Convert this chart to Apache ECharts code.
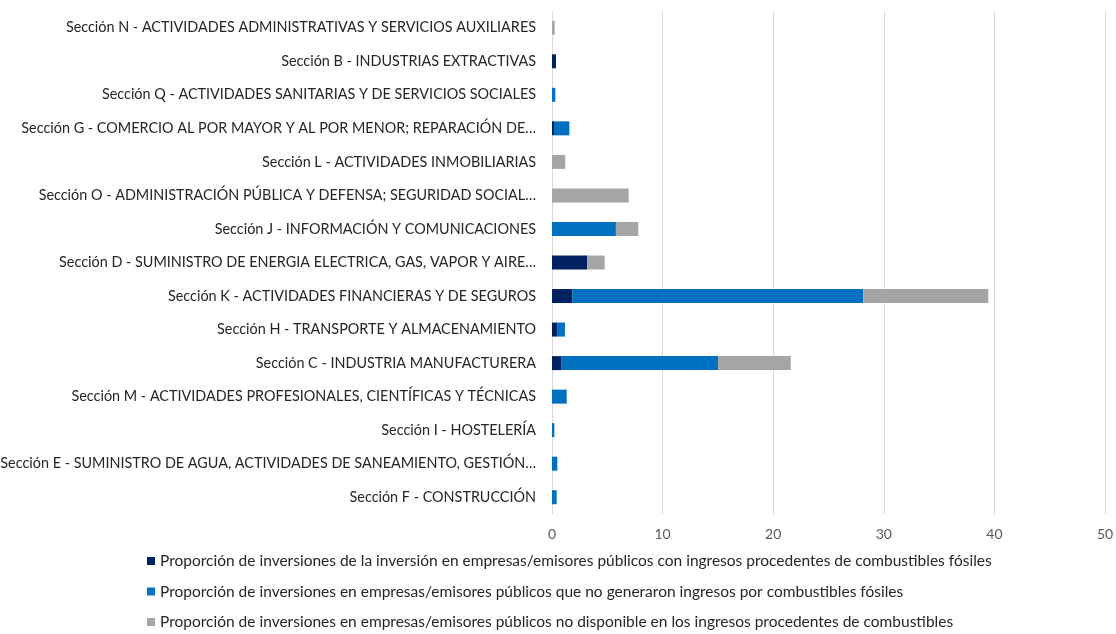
<!DOCTYPE html>
<html>
<head>
<meta charset="utf-8">
<script src="https://cdn.jsdelivr.net/npm/echarts@6/dist/echarts.min.js"></script>
<style>
  html, body { margin: 0; padding: 0; background: #fff; }
  #chart { width: 1116px; height: 634px; }
</style>
</head>
<body>
<div id="chart"></div>
<script>
// categories listed top to bottom
var sections = [
  'Sección N - ACTIVIDADES ADMINISTRATIVAS Y SERVICIOS AUXILIARES',
  'Sección B - INDUSTRIAS EXTRACTIVAS',
  'Sección Q - ACTIVIDADES SANITARIAS Y DE SERVICIOS SOCIALES',
  'Sección G - COMERCIO AL POR MAYOR Y AL POR MENOR; REPARACIÓN DE…',
  'Sección L - ACTIVIDADES INMOBILIARIAS',
  'Sección O - ADMINISTRACIÓN PÚBLICA Y DEFENSA; SEGURIDAD SOCIAL…',
  'Sección J - INFORMACIÓN Y COMUNICACIONES',
  'Sección D - SUMINISTRO DE ENERGIA ELECTRICA, GAS, VAPOR Y AIRE…',
  'Sección K - ACTIVIDADES FINANCIERAS Y DE SEGUROS',
  'Sección H - TRANSPORTE Y ALMACENAMIENTO',
  'Sección C - INDUSTRIA MANUFACTURERA',
  'Sección M - ACTIVIDADES PROFESIONALES, CIENTÍFICAS Y TÉCNICAS',
  'Sección I - HOSTELERÍA',
  'Sección E - SUMINISTRO DE AGUA, ACTIVIDADES DE SANEAMIENTO, GESTIÓN…',
  'Sección F - CONSTRUCCIÓN'
]

var fosilNames = [
  'Proporción de inversiones de la inversión en empresas/emisores públicos con ingresos procedentes de combustibles fósiles',
  'Proporción de inversiones en empresas/emisores públicos que no generaron ingresos por combustibles fósiles',
  'Proporción de inversiones en empresas/emisores públicos no disponible en los ingresos procedentes de combustibles'
]

var conFosiles = [0, 0.36, 0, 0.18, 0, 0, 0, 3.19, 1.84, 0.51, 0.87, 0, 0, 0, 0]
var sinFosiles = [0, 0, 0.3, 1.39, 0, 0, 5.78, 0, 26.3, 0.66, 14.15, 1.33, 0.21, 0.48, 0.42]
var noDisponible = [0.24, 0, 0, 0, 1.2, 6.93, 2.02, 1.57, 11.3, 0, 6.57, 0, 0, 0, 0]

var colors = ['#002060', '#0070C0', '#A5A5A5']
var font = 'Lato'

function serie (i, data) {
  return {
    name: fosilNames[i],
    type: 'bar',
    stack: 'total',
    barWidth: 14,
    itemStyle: { color: colors[i] },
    data: data
  }
}

var option = {
  animation: false,
  textStyle: { fontFamily: font },
  grid: { left: 552, right: 11, top: 11, bottom: 120, containLabel: false, outerBoundsMode: 'none' },
  legend: {
    orient: 'vertical',
    left: 147,
    top: 553,
    height: 110,
    padding: 0,
    itemGap: 14.5,
    itemWidth: 8,
    itemHeight: 8,
    icon: 'rect',
    textStyle: { fontFamily: font, fontSize: 15.5, color: '#262626' },
    data: fosilNames
  },
  xAxis: {
    type: 'value',
    min: 0,
    max: 50,
    interval: 10,
    axisLine: { show: false },
    axisTick: { show: false },
    splitLine: { lineStyle: { color: '#D9D9D9', width: 1 } },
    axisLabel: { fontFamily: font, fontSize: 14, color: '#595959', margin: 13 }
  },
  yAxis: {
    type: 'category',
    inverse: true,
    data: sections,
    axisLine: { show: false },
    axisTick: { show: false },
    axisLabel: { fontFamily: font, fontSize: 14.4, color: '#262626', margin: 16 }
  },
  series: [
    serie(0, conFosiles),
    serie(1, sinFosiles),
    serie(2, noDisponible)
  ]
}

var myChart = echarts.init(document.getElementById('chart'))
myChart.setOption(option)
</script>
</body>
</html>
